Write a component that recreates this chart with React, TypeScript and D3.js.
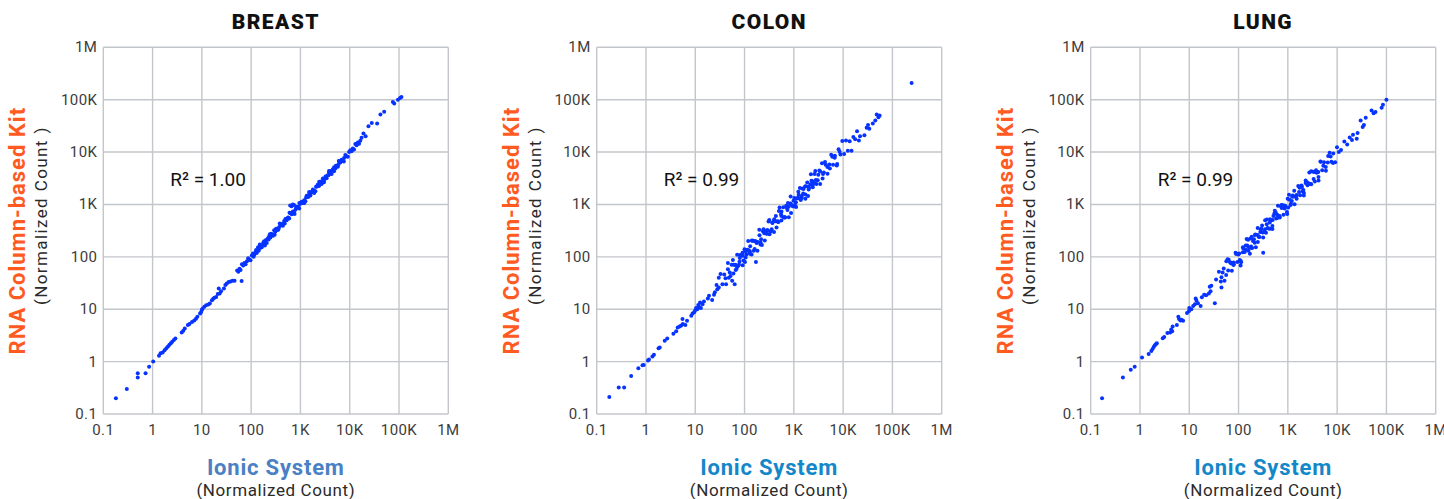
import React from "react";
import * as d3 from "d3";

const panelTitles = ["BREAST", "COLON", "LUNG"];
const rSquaredLabels = ["R² = 1.00", "R² = 0.99", "R² = 0.99"];
const tickValues = [0.1, 1, 10, 100, 1000, 10000, 100000, 1000000];
const tickLabels = ["0.1", "1", "10", "100", "1K", "10K", "100K", "1M"];

const breastPoints: [number, number][] = [
  [0.18,0.2],[0.3,0.3],[0.5,0.5],[0.5,0.6],[0.72,0.6],[0.85,0.8],[1.03,1.0],
  [1.35,1.3],[1.45,1.45],[1.6,1.5],[1.75,1.65],[1.9,1.8],[2.05,1.95],[2.2,2.1],[2.35,2.25],[2.5,2.4],[2.7,2.6],[2.9,2.75],
  [3.9,3.6],[4.2,3.9],[4.5,4.3],[5.2,5.0],[5.6,5.2],[6.3,5.7],[7.0,6.1],[7.6,6.6],[8.1,7.2],[9.2,8.3],[9.6,8.8],[10,9.7],[10.3,10.2],
  [11.2,11.2],[12.2,11.9],[13.5,12.3],[14.5,12.8],[16,14.8],[17,15.8],[18,16.5],[19.5,17.2],[21,19.5],[23,20],[24.5,22],[22,25],[28,25],[30,29],[32,31],[35,33],[38,34],[42,35],[46,35],[64,34.6],
  [52,55],[55,52],[58,59],[61,56],[65,72],[69,68],[73,76],[77,72],[82,82],[87,94],[92,88],[97,86],[103,106],[109,116],[116,110],[123,124],[130,118],[138,152],[146,143],[155,161],[164,153],[174,174],[184,199],[195,187],[207,184],[219,226],[232,246],[246,234],[261,264],[277,252],[293,322],[311,305],[330,343],[349,325],[370,370],[393,424],[416,399],[441,392],[468,482],[496,526],[526,500],[557,563],[591,538],[626,689],[664,651],[704,732],[746,694],[791,791],[838,905],[889,853],[942,838],[999,1029],[1059,1123],[1122,1066],[1190,1202],[1261,1148],[1337,1471],[1417,1389],[1502,1562],[1592,1481],[1688,1688],[1789,1932],[1897,1821],[2010,1789],[2131,2195],[2259,2395],[2394,2274],[2538,2563],[2690,2448],[2852,3137],[3023,2963],[3204,3332],[3396,3158],[3600,3600],[3816,4121],[4045,3883],[4288,3816],[4545,4681],[4818,5107],[5107,4852],[5413,5467],[5738,5222],[6082,6690],[6447,6318],[6834,7107],[7244,6737],[7679,7679],[8140,8791],[8628,8283],[9146,8140],[9694,9985],[10276,10893],[10892,10347],[11546,11661],[12239,11137],[12973,14270],[13751,13476],[14576,15159],[15451,14369],[16378,16378],[17360,18749],
  [112,100],[126,135],[142,130],[158,150],[178,190],[200,210],[226,215],[255,275],[285,270],[320,345],[360,340],[405,420],[455,440],[510,530],[575,555],[645,690],[725,700],[815,860],[915,900],[1030,1080],[1160,1110],[1300,1360],[1460,1420],[1640,1720],[1840,1780],[2070,2170],[2320,2260],[2610,2740],[2930,2850],[3290,3450],[3700,3600],[4150,4350],[4660,4530],[5230,5480],[5870,5700],
  [150,172],[190,165],[240,269],[300,264],[380,433],[480,432],[600,696],[760,654],[950,1064],[1200,1068],[1500,1725],[1900,1653],[2400,2712],[3000,2640],[3800,4370],[4800,4320],[6000,6720],[7600,6612],
  [620,960],[660,920],[700,1000],[740,980],
  [19000,22500],[21000,20000],[24000,31000],[28000,36000],[36000,35000],[42000,52000],[50000,59000],[75000,90000],[80000,85000],[95000,100000],[105000,108000],[112000,113000]
];

const colonPoints: [number, number][] = [
  [0.18,0.21],[0.28,0.32],[0.36,0.32],[0.5,0.53],[0.7,0.75],[0.85,0.85],[0.9,0.86],[1.1,1.05],[1.15,1.1],[1.35,1.25],[1.45,1.35],[1.8,1.8],[1.9,1.85],[2.4,2.5],[2.7,2.75],[3.6,3.4],[4.1,3.8],[4.4,4.5],[4.8,4.7],[5.2,4.9],[5.6,5.2],[5.5,6.5],[6.3,5.0],[6.8,6.0],[8.3,7.5],[8.8,8.3],[9.5,8.8],[10,9.6],[10.4,10.5],[11,10],[11.5,12],[12,11],[12.5,13.5],[13,10.5],[14,12.5],[15,14],[18,16],[19,18],[22,15],[24,19],[25,21],[27,29],[28,24],[30,26],[30,40],
  [32.5,47],[35.5,30],[38.7,46],[42.1,30],[45.9,76],[50.1,50],[54.6,71],[59.5,48],[64.8,71],[70.7,110],[77,71],[84,105],[91.5,69],[99.8,140],[108.8,111],[118.5,201],[129.2,114],[140.9,204],[153.5,130],[167.4,198],[182.4,131],[198.8,328],[216.7,217],[236.3,307],[257.5,206],[280.7,309],[306,474],[333.5,307],[363.5,454],[396.2,297],[431.9,605],[470.7,480],[513.1,872],[559.3,492],[609.6,884],[664.5,565],[724.3,855],[789.5,568],[860.5,1420],[938,938],[1022,1329],[1114,891],[1215,1337],[1324,2052],[1443,1328],[1573,1966],[1715,1286],[1869,2617],[2037,2078],[2220,3774],[2420,2130],[2638,3825],[2876,2445],[3134,3698],[3417,2460],[3724,6145],[4059,4059],[4425,5753],[4823,3858],[5257,5783],[5730,8882],[6246,5746],[6808,8510],[7421,5566],[8089,11325],[8817,8993],[9610,16337],[10475,9218],[11418,16556],[12446,10579],[13566,16008],[14787,10647],[16118,19342],[17568,17568],[19149,24894],[20873,16698],
  [105,126],[125,119],[150,203],[175,184],[210,172],[250,313],[290,325],[340,306],[400,520],[470,470],[550,649],[650,572],[760,1064],[900,972],[1050,977],[1250,1525],[1450,1450],[1700,2210],[2000,1920],[2400,2760],[2800,2940],[3300,4455],[3900,3822],
  [41,39],[46,58],[52,43],[58,87],[65,70],[73,66],[81,109],[91,105],[102,80],[114,137],[128,128],[143,203],[160,141],[180,189],[201,257],[225,169],[252,282],[283,277],[317,507],[355,337],[397,496],[445,365],[498,747],[558,603],[625,563],[700,945],[784,902],[878,685],[983,1180],[1101,1101],[1233,1751],[1381,1215],[1547,1624],[1733,2218],[1941,1456],[2174,2435],[2434,2385],[2726,4362],[3054,2901],[3420,4275],[3830,3141],[4290,6435],[4805,5189],[5382,4844],[6027,8136],[6751,7764],[7561,5898],[8468,10162],
  [60,71],[69,59],[79,81],[91,120],[105,97],[121,133],[139,111],[160,200],[184,193],[211,190],[243,335],[279,279],[321,270],[369,443],[425,476],[488,464],[562,731],[646,568],[743,788],[854,1042],[982,913],[1130,1300],[1299,1299],[1494,2017],[1718,1546],[1976,2174],[2272,2840],[2613,2535],
  [56,35],[63,30],[170,80],[48,40],[66,56],[80,95],[95,85],[130,160],
  [22000,20000],[27000,21000],[30000,29000],[32000,33000],[34000,28000],[40000,35000],[45000,40000],[48000,52000],[52000,46000],[55000,50000],[245000,209000]
];

const lungPoints: [number, number][] = [
  [0.17,0.2],[0.45,0.5],[0.65,0.7],[0.78,0.8],[1.1,1.2],[1.5,1.4],[1.7,1.6],[1.8,1.75],[1.9,1.9],[2.0,2.05],[2.1,2.15],[2.2,2.25],[2.9,2.8],[3.1,2.95],[3.6,3.5],[4.1,3.6],[4.5,3.8],[4.6,4.7],[4.3,4.1],[5.6,5.0],[6.0,7.2],[6.2,6.5],[6.6,6.1],[7.0,6.3],[7.5,6.0],[9.0,8.5],[9.8,9.2],[10,10.5],[11,10],[12,11.5],[13,12.5],[13.5,16],[14,14.5],[15,13],[17,11.5],[18,17],[20,19],[22,18.5],[25,20],[26,27],[27,22],[28,28],[33,13],[35,37],
  [40,52],[43.6,34],[47.5,50],[51.8,35],[56.5,82],[61.6,55],[67.1,79],[73.1,54],[79.7,78],[86.9,120],[94.7,80],[103.2,116],[112.5,79],[122.6,153],[133.6,124],[145.7,219],[158.8,130],[173.1,225],[188.6,147],[205.6,216],[224.1,152],[244.3,354],[266.3,240],[290.2,342],[316.3,234],[344.8,338],[375.9,519],[409.7,348],[446.6,500],[486.8,341],[530.6,663],[578.3,538],[630.4,946],[687.1,563],[748.9,974],[816.3,637],[889.8,934],[969.9,660],[1057,1533],[1152,1037],[1256,1482],[1369,1013],[1492,1462],[1627,2245],[1773,1507],[1933,2165],[2107,1475],[2296,2870],[2503,2328],[2728,4092],[2974,2439],[3241,4213],[3533,2756],[3851,4044],[4197,2854],[4575,6634],[4987,4488],[5436,6414],[5925,4385],[6458,6329],[7040,9715],[7673,6522],[8364,9368],[9117,6382],[9937,12421],[10831,10073],
  [150,165],[180,158],[215,262],[255,242],[300,396],[360,288],[430,452],[510,602],[610,549],[720,922],[860,860],[1020,877],[1220,1403],[1450,1407],[1730,2163],[2060,1895],[2450,2646],[2920,2453],[3480,4176],[4150,4150],
  [45,41],[50,60],[56,45],[63,88],[71,75],[79,70],[89,114],[99,111],[111,83],[125,144],[140,136],[156,211],[175,149],[196,200],[220,268],[246,192],[276,298],[309,290],[346,502],[387,356],[434,521],[486,389],[544,762],[609,639],[682,600],[764,978],[856,959],[959,719],[1074,1235],[1203,1167],[1347,1818],[1509,1283],[1690,1724],[1893,2309],[2120,1654],[2374,2564],[2659,2499],[2978,4318],[3336,3069],[3736,4483],[4185,3348],[4687,6562],[5249,5511],[5879,5174],[6585,8429],[7375,8260],[8260,6195],
  [70,77],[80,72],[92,115],[106,87],[122,122],[140,165],[161,153],[185,241],[213,185],[245,260],[282,338],[324,298],[373,418],[429,343],[493,503],[567,703],[652,587],[750,855],[862,836],[992,1290],[1140,980],[1311,1416],[1508,1508],[1734,2081],[1994,1795],[2293,2568],[2637,2505],
  [316,120],[45,26],[60,90],[110,68],[170,115],
  [12000,11000],[14000,16000],[16000,14000],[18000,19000],[20000,17000],[21000,21500],[25000,18000],[26000,23000],[30000,40000],[33000,30000],[35000,33000],[38000,45000],[50000,62000],[55000,55000],[60000,58000],[80000,70000],[85000,80000],[100000,100000]
];

const panelData = [breastPoints, colonPoints, lungPoints];
const xTitleColors = ["#4a80c4", "#1487c9", "#1487c9"];

const W = 1444;
const H = 499;
const plotLefts = [103.3, 596.7, 1090.7];
const plotTop = 47.3;
const plotW = 345;
const plotH = 366.7;
const FONT = "Roboto, 'Open Sans', sans-serif";

function Panel({ idx }: { idx: number }) {
  const left = plotLefts[idx];
  const x = d3.scaleLog().domain([0.1, 1e6]).range([left, left + plotW]);
  const y = d3.scaleLog().domain([0.1, 1e6]).range([plotTop + plotH, plotTop]);
  const cx = left + plotW / 2;
  const cy = plotTop + plotH / 2;
  return (
    <g>
      <text x={cx} y={29} textAnchor="middle" fontFamily={FONT} fontWeight={900} fontSize={21} fill="#111" letterSpacing={1.4}>
        {panelTitles[idx]}
      </text>
      {tickValues.map((t, i) => (
        <line key={"v" + i} x1={x(t)} x2={x(t)} y1={plotTop} y2={plotTop + plotH} stroke="#c3c6ca" strokeWidth={1.4} />
      ))}
      {tickValues.map((t, i) => (
        <line key={"h" + i} x1={left} x2={left + plotW} y1={y(t)} y2={y(t)} stroke="#c3c6ca" strokeWidth={1.4} />
      ))}
      {tickValues.map((t, i) => (
        <text key={"xt" + i} x={x(t)} y={435} textAnchor="middle" fontFamily={FONT} fontSize={15} letterSpacing={0.4} fill="#3c3c3c">
          {tickLabels[i]}
        </text>
      ))}
      {tickValues.map((t, i) => (
        <text key={"yt" + i} x={left - 6} y={y(t) + 5} textAnchor="end" fontFamily={FONT} fontSize={15} letterSpacing={0.4} fill="#3c3c3c">
          {tickLabels[i]}
        </text>
      ))}
      {panelData[idx].map((p, i) => (
        <circle key={"p" + i} cx={x(p[0])} cy={y(p[1])} r={2} fill="#0633ff" />
      ))}
      <text x={left + 67} y={186} fontFamily={FONT} fontSize={19} fill="#111">
        {rSquaredLabels[idx]}
      </text>
      <text x={cx} y={475} textAnchor="middle" fontFamily={FONT} fontWeight={700} fontSize={22} letterSpacing={0.8} fill={xTitleColors[idx]}>
        Ionic System
      </text>
      <text x={cx} y={496} textAnchor="middle" fontFamily={FONT} fontSize={17} letterSpacing={0.6} fill="#2a2a2a">
        (Normalized Count)
      </text>
      <text transform={`translate(${left - 78},${cy}) rotate(-90)`} textAnchor="middle" fontFamily={FONT} fontWeight={700} fontSize={22} letterSpacing={1} fill="#ff5a1f">
        RNA Column-based Kit
      </text>
      <text transform={`translate(${left - 56},${cy - 15}) rotate(-90)`} textAnchor="middle" fontFamily={FONT} fontSize={17} letterSpacing={1.4} fill="#2a2a2a">
        (Normalized Count )
      </text>
    </g>
  );
}

export default function App() {
  return (
    <svg width={W} height={H} style={{ position: "absolute", left: 0, top: 0, background: "#fff" }}>
      <rect width={W} height={H} fill="#fff" />
      {[0, 1, 2].map((i) => (
        <Panel key={i} idx={i} />
      ))}
    </svg>
  );
}
